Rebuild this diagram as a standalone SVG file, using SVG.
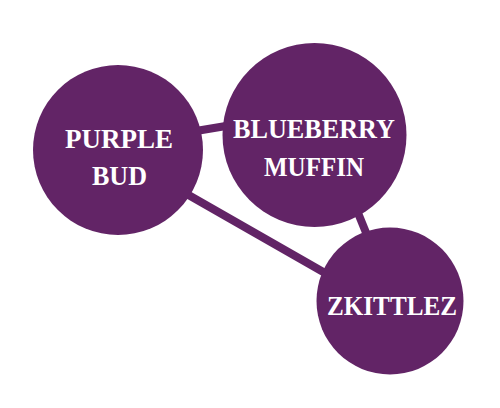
<svg xmlns="http://www.w3.org/2000/svg" width="500" height="408" viewBox="0 0 500 408">
<style>
.node{fill:#622466}
.edge{stroke:#622466;stroke-width:8;fill:none}
.lbl{fill:#ffffff;font-family:"Liberation Serif","DejaVu Serif",serif;font-weight:bold;font-size:28px;text-anchor:middle}
</style>
<rect width="500" height="408" fill="#ffffff"/>
<g id="connectors">
<line class="edge" x1="190" y1="132" x2="232" y2="125"/>
<line class="edge" x1="185" y1="193" x2="332" y2="277"/>
<line class="edge" x1="356" y1="208" x2="369" y2="240"/>
</g>
<g id="purple-bud">
<circle class="node" cx="118" cy="150" r="85"/>
<text class="lbl" x="119" y="148" textLength="108" lengthAdjust="spacingAndGlyphs">PURPLE</text>
<text class="lbl" x="119.5" y="185" textLength="55" lengthAdjust="spacingAndGlyphs">BUD</text>
</g>
<g id="blueberry-muffin">
<circle class="node" cx="314.5" cy="135" r="92"/>
<text class="lbl" x="314" y="138" textLength="162" lengthAdjust="spacingAndGlyphs">BLUEBERRY</text>
<text class="lbl" x="314" y="176" textLength="100" lengthAdjust="spacingAndGlyphs">MUFFIN</text>
</g>
<g id="zkittlez">
<circle class="node" cx="390" cy="301" r="73.5"/>
<text class="lbl" x="392" y="315" textLength="130" lengthAdjust="spacingAndGlyphs">ZKITTLEZ</text>
</g>
</svg>
